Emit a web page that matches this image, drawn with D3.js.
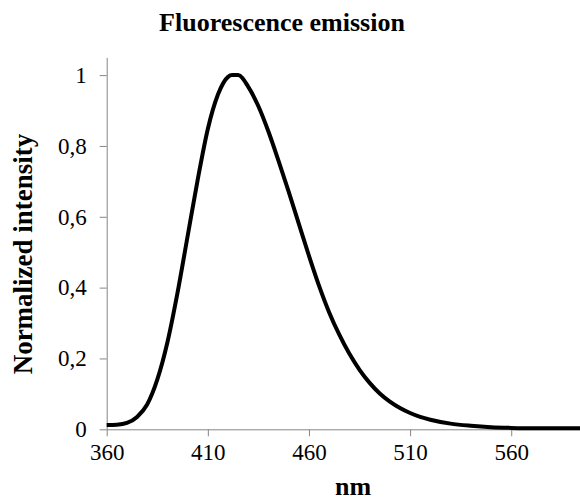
<!doctype html>
<html>
  <head>
    <script src="https://cdn.jsdelivr.net/npm/d3@7/dist/d3.min.js"></script>
    <style>
      body { margin: 0; background: #fff; }
      text { font-family: "Liberation Serif", "Times New Roman", Times, serif; }
    </style>
  </head>
  <body>
    <svg id="chart" width="580" height="502"></svg>

    <script>
      // emission spectrum
      var wavelength = [360, 365, 370, 375, 380, 385, 390, 395, 400, 405, 410, 415, 420, 422, 425,
                        430, 435, 440, 445, 450, 455, 460, 465, 470, 475, 480, 485, 490, 495, 500,
                        505, 510, 515, 520, 530, 540, 550, 560, 570, 580, 594];
      var intensity  = [0.012, 0.013, 0.018, 0.035, 0.07, 0.14, 0.245, 0.385, 0.545, 0.705, 0.848, 0.945, 0.995, 1.0, 1.0,
                        0.967, 0.912, 0.84, 0.757, 0.67, 0.58, 0.49, 0.405, 0.33, 0.267, 0.213, 0.168, 0.131, 0.101, 0.078,
                        0.06, 0.046, 0.035, 0.027, 0.016, 0.01, 0.006, 0.004, 0.003, 0.003, 0.003];

      var xTicks = [360, 410, 460, 510, 560];
      var yTicks = [0, 0.2, 0.4, 0.6, 0.8, 1];
      var yTickLabels = ["0", "0,2", "0,4", "0,6", "0,8", "1"];

      var svg = d3.select("#chart");
      var axisColor = "#868686";
      var serif = "'Liberation Serif', 'Times New Roman', Times, serif";

      var x = d3.scaleLinear().domain([360, 594]).range([106.7, 580]);
      var y = d3.scaleLinear().domain([0, 1.05]).range([429.3, 57.4]);

      // x axis
      var gx = svg.append("g")
        .attr("transform", "translate(0," + y(0) + ")")
        .call(d3.axisBottom(x).tickValues(xTicks).tickSize(7).tickPadding(7).tickSizeOuter(0));

      // y axis
      var gy = svg.append("g")
        .attr("transform", "translate(" + x(360) + ",0)")
        .call(d3.axisLeft(y).tickValues(yTicks).tickSize(7).tickPadding(13).tickSizeOuter(0)
          .tickFormat(function(d, i) { return yTickLabels[i]; }));

      [gx, gy].forEach(function(g) {
        g.attr("font-family", serif).attr("font-size", 23);
        g.select(".domain").attr("stroke", axisColor).attr("stroke-width", 1);
        g.selectAll(".tick line").attr("stroke", axisColor);
        g.selectAll(".tick text")
          .attr("fill", "#000")
          .style("font-size", "23px")
          .style("font-family", serif);
      });

      // the curve
      var line = d3.line()
        .x(function(d, i) { return x(wavelength[i]); })
        .y(function(d) { return y(d); })
        .curve(d3.curveMonotoneX);

      svg.append("path")
        .datum(intensity)
        .attr("fill", "none")
        .attr("stroke", "#000")
        .attr("stroke-width", 4)
        .attr("stroke-linejoin", "round")
        .attr("d", line);

      // titles
      svg.append("text")
        .attr("x", 282)
        .attr("y", 31)
        .attr("text-anchor", "middle")
        .style("font-size", "26px")
        .style("font-weight", "bold")
        .text("Fluorescence emission");

      svg.append("text")
        .attr("x", 353)
        .attr("y", 495)
        .attr("text-anchor", "middle")
        .style("font-size", "26px")
        .style("font-weight", "bold")
        .text("nm");

      svg.append("text")
        .attr("transform", "translate(32,254) rotate(-90)")
        .attr("text-anchor", "middle")
        .style("font-size", "27px")
        .style("font-weight", "bold")
        .text("Normalized intensity");
    </script>
  </body>
</html>
